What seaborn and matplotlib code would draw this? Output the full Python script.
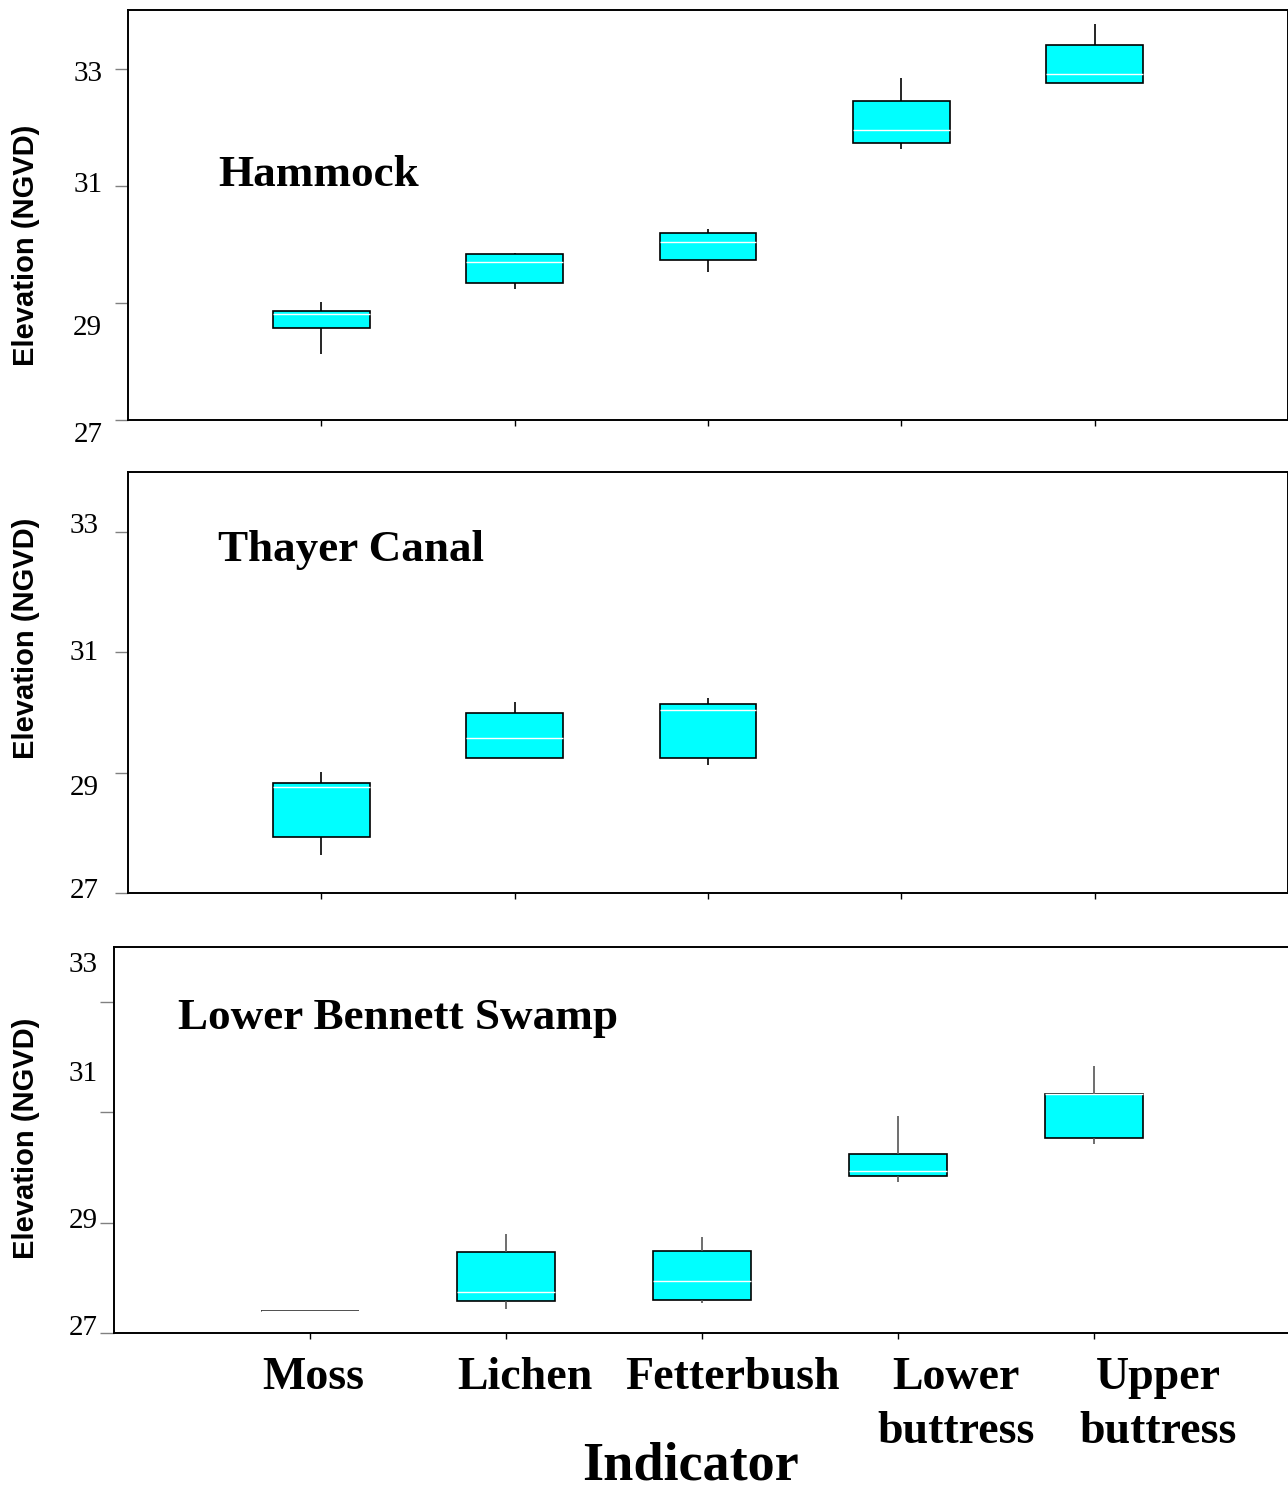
import numpy as np
import pandas as pd
import matplotlib
matplotlib.use("Agg")
import matplotlib.pyplot as plt
import seaborn as sns
from matplotlib.transforms import ScaledTranslation

# ---------------- data ----------------
categories = ["Moss", "Lichen", "Fetterbush", "Lower\nbuttress", "Upper\nbuttress"]

# each entry: [lower whisker, Q1, median, Q3, upper whisker]
hammock_moss = [28.13, 28.57, 28.81, 28.86, 29.01]
hammock_lichen = [29.24, 29.34, 29.70, 29.83, 29.85]
hammock_fetterbush = [29.53, 29.73, 30.04, 30.19, 30.26]
hammock_lower = [31.62, 31.73, 31.95, 32.44, 32.84]
hammock_upper = [32.75, 32.75, 32.90, 33.40, 33.76]

thayer_moss = [27.63, 27.93, 28.77, 28.83, 29.02]
thayer_lichen = [29.25, 29.25, 29.58, 30.00, 30.18]
thayer_fetterbush = [29.13, 29.25, 30.05, 30.15, 30.25]
thayer_lower = []
thayer_upper = []

bennett_moss = [27.40, 27.40, 27.40, 27.40, 27.40]
bennett_lichen = [27.44, 27.58, 27.75, 28.47, 28.80]
bennett_fetterbush = [27.55, 27.60, 27.95, 28.49, 28.75]
bennett_lower = [29.73, 29.84, 29.93, 30.24, 30.94]
bennett_upper = [30.43, 30.54, 31.34, 31.34, 31.85]

site_names = ["Hammock", "Thayer Canal", "Lower Bennett Swamp"]
y_ticks = [27, 29, 31, 33]
y_tick_labels = ["27", "29", "31", "33"]

sites = [
    [hammock_moss, hammock_lichen, hammock_fetterbush, hammock_lower, hammock_upper],
    [thayer_moss, thayer_lichen, thayer_fetterbush, thayer_lower, thayer_upper],
    [bennett_moss, bennett_lichen, bennett_fetterbush, bennett_lower, bennett_upper],
]

# ---------------- style ----------------
sns.set_style("white")
plt.rcParams["font.family"] = ["Liberation Serif", "DejaVu Serif"]
plt.rcParams["text.color"] = "black"
plt.rcParams["axes.labelcolor"] = "black"
plt.rcParams["xtick.labelcolor"] = "black"
plt.rcParams["ytick.labelcolor"] = "black"

W, H = 1288, 1492
fig = plt.figure(figsize=(W / 100, H / 100), dpi=100)

# axes boxes in pixels: left, top, right, bottom
boxes = [(128, 10, 1288, 420), (128, 472, 1288, 893), (114, 947, 1290, 1333)]
whisker_colors = ["black", "black", "#555555"]
ytick_pad = [9, 11.5, 1.5]
ytick_len = [9.5, 9.5, 10]
# vertical shifts (pixels, downward) of the y tick labels as drawn in the original
ylabel_shift = [[12, 22, -4, 2], [-5, 12, -2, -9], [-8, -5, -41, -40]]
ylabel_y = [0.427, 0.606, 0.505]
title_pos = [(0.078, 0.598), (0.078, 0.815), (0.054, 0.816)]

for k, (l, t, r, b) in enumerate(boxes):
    ax = fig.add_axes([l / W, 1 - b / H, (r - l) / W, (b - t) / H])
    rows = []
    for cat, vals in zip(categories, sites[k]):
        for v in vals:
            rows.append((cat, v))
    df = pd.DataFrame(rows, columns=["Indicator", "Elevation"])
    sns.boxplot(
        data=df, x="Indicator", y="Elevation", order=categories,
        whis=(0, 100), width=0.5, color="#00FFFF", saturation=1,
        linecolor="black", linewidth=1.2, showcaps=False,
        medianprops=dict(color="white", linewidth=1.0),
        whiskerprops=dict(color=whisker_colors[k], linewidth=1.2),
        ax=ax,
    )
    ax.set_xlim(-1, 5)
    ax.set_ylim(27, 34)
    ax.set_yticks(y_ticks)
    ax.set_yticklabels(y_tick_labels)
    for s in ax.spines.values():
        s.set_color("black")
        s.set_linewidth(1.4)
    ax.tick_params(axis="y", length=ytick_len[k], width=1.0, color="#808080",
                   pad=ytick_pad[k], labelsize=21, left=True)
    ax.tick_params(axis="x", length=4.5, width=1.0, color="black", bottom=True)
    for lab, dy in zip(ax.get_yticklabels(), ylabel_shift[k]):
        lab.set_transform(lab.get_transform() +
                          ScaledTranslation(0, -dy / 100, fig.dpi_scale_trans))
    ax.set_ylabel("Elevation (NGVD)", fontsize=21, fontweight="bold",
                  family=["Liberation Sans", "DejaVu Sans"])
    ax.yaxis.set_label_coords((40 - l) / (r - l), ylabel_y[k])
    ax.set_xlabel("")
    ax.text(title_pos[k][0], title_pos[k][1], site_names[k], transform=ax.transAxes,
            ha="left", va="center", fontsize=32.5, fontweight="bold",
            family=["Liberation Serif", "DejaVu Serif"])
    if k < 2:
        ax.set_xticklabels([])
    else:
        ax.set_xticklabels(categories, fontsize=33, fontweight="bold", linespacing=1.38)
        ax.tick_params(axis="x", pad=13)
        offsets_px = [3, 19, 30, 58, 64]
        for lab, dx in zip(ax.get_xticklabels(), offsets_px):
            lab.set_transform(lab.get_transform() +
                              ScaledTranslation(dx / 100, 0, fig.dpi_scale_trans))

fig.text(691 / W, 1 - 1480 / H, "Indicator", ha="center", va="baseline",
         fontsize=39, fontweight="bold", family=["Liberation Serif", "DejaVu Serif"])

fig.savefig("out.png", dpi=100)
